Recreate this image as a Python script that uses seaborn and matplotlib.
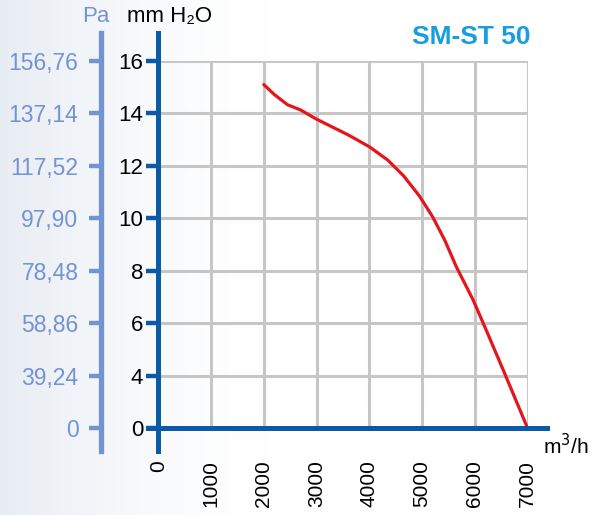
import numpy as np
import matplotlib
matplotlib.use('Agg')
import matplotlib.pyplot as plt
import seaborn as sns

# fan curve, values
flow = [2000, 2200, 2450, 2700, 3000, 3300, 3600, 4000, 4350, 4650,
        4950, 5200, 5430, 5650, 5970, 6220, 6540, 6790, 7000]
pressure = [15.1, 14.72, 14.33, 14.13, 13.78, 13.48, 13.18, 12.73, 12.22, 11.62,
            10.85, 10.06, 9.17, 8.15, 6.88, 5.72, 4.21, 2.02, 0.0]

x_ticks = [0, 1000, 2000, 3000, 4000, 5000, 6000, 7000]
mm_ticks = [0, 4, 6, 8, 10, 12, 14, 16]
pa_labels = ['0', '39,24', '58,86', '78,48', '97,90', '117,52', '137,14', '156,76']

DARK_BLUE = '#0b5aa6'
PA_BLUE = '#7393d3'
RED = '#e3161e'
GRID = '#c6c6c6'

sns.set_theme(style='white')
plt.rcParams['font.family'] = ['Liberation Sans', 'DejaVu Sans']


# the original chart squeezes 0..4 into one grid step, then 2 per step
def fwd(v):
    v = np.asarray(v, dtype=float)
    return np.where(v < 4, v / 4.0, 1 + (v - 4) / 2.0)


def inv(p):
    p = np.asarray(p, dtype=float)
    return np.where(p < 1, p * 4.0, p * 2.0 + 2)


fig = plt.figure(figsize=(5.96, 5.15), dpi=100)

# soft background like the brochure
bg = fig.add_axes([0, 0, 1, 1], zorder=-10)
grad = np.linspace(0, 1, 300)
shade = np.clip(1 - grad / 0.45, 0, 1) ** 1.5
img = np.ones((10, 300, 3))
img[:, :, 0] -= 0.09 * shade
img[:, :, 1] -= 0.07 * shade
img[:, :, 2] -= 0.045 * shade
bg.imshow(img, aspect='auto', extent=[0, 1, 0, 1])
bg.axis('off')

ax = fig.add_axes([0.2656, 0.1689, 0.6195, 0.7127])
ax.set_facecolor('none')
ax.set_yscale('function', functions=(fwd, inv))

sns.lineplot(x=flow, y=pressure, ax=ax, color=RED, linewidth=2.3, zorder=5)

ax.set_xlim(0, 7000)
ax.set_ylim(0, 16)
ax.set_xticks(x_ticks)
ax.set_xticklabels([str(v) for v in x_ticks], rotation=90)
ax.set_yticks(mm_ticks)
ax.set_yticklabels([str(v) for v in mm_ticks])
ax.minorticks_off()
ax.grid(True, color=GRID, linewidth=2.2)
ax.set_axisbelow(True)

for side in ['top', 'right']:
    ax.spines[side].set_visible(False)
for side in ['left', 'bottom']:
    ax.spines[side].set_color(DARK_BLUE)
    ax.spines[side].set_linewidth(3.6)
    ax.spines[side].set_zorder(6)
ax.spines['left'].set_bounds(-1.75, 17.07)
ax.spines['bottom'].set_bounds(-195, 7370)

ax.tick_params(axis='x', direction='out', length=11, width=3.6, color=DARK_BLUE,
               pad=12, labelcolor='black', labelsize=15)
ax.tick_params(axis='y', direction='out', length=9, width=3.2, color=DARK_BLUE,
               pad=2, labelcolor='black', labelsize=16)
ax.set_xlabel('')
ax.set_ylabel('')

# Pa scale on the far left
ax2 = ax.twinx()
ax2.set_yscale('function', functions=(fwd, inv))
ax2.set_ylim(0, 16)
ax2.yaxis.tick_left()
ax2.set_yticks(mm_ticks)
ax2.set_yticklabels(pa_labels)
ax2.minorticks_off()
for side in ['top', 'right', 'bottom']:
    ax2.spines[side].set_visible(False)
ax2.spines['left'].set_position(('outward', 41.5))
ax2.spines['left'].set_color(PA_BLUE)
ax2.spines['left'].set_linewidth(3.8)
ax2.spines['left'].set_bounds(-1.75, 17.07)
ax2.tick_params(axis='y', which='both', left=True, right=False,
                labelleft=True, labelright=False, direction='out',
                length=9, width=3.2, color=PA_BLUE, pad=7,
                labelcolor=PA_BLUE, labelsize=16.5)
ax2.grid(False)

fig.text(96 / 596, 1 - 16 / 515, 'Pa', color=PA_BLUE, fontsize=16,
         ha='center', va='center')
fig.text(127 / 596, 1 - 16 / 515, 'mm H₂O', color='black', fontsize=16,
         ha='left', va='center')
fig.text(530 / 596, 1 - 37 / 515, 'SM-ST 50', color='#189ddf', fontsize=19,
         fontweight='bold', ha='right', va='center')
fig.text(543 / 596, 1 - 446 / 515, 'm$^3$/h', color='black', fontsize=15,
         ha='left', va='center')

fig.savefig('out.png', dpi=100)
plt.close(fig)
